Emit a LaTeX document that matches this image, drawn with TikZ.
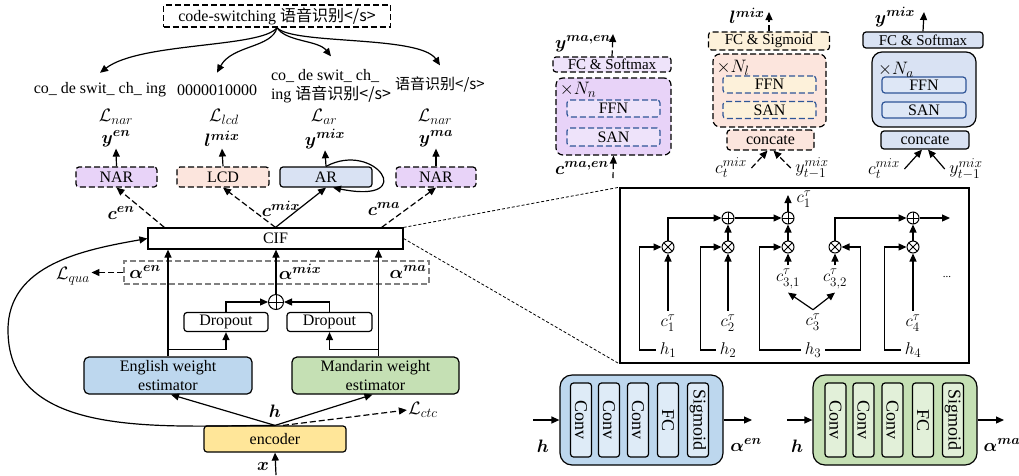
\documentclass[tikz,border=0pt]{standalone}
\usepackage{fix-cm}
\usepackage{amsmath,bm}
\usepackage{fontspec}
\setmainfont{Liberation Serif}
\newfontfamily\cjk{Noto Sans CJK SC}
\usetikzlibrary{arrows.meta, positioning}
\DeclareMathSizes{16}{18}{13.5}{10}
\DeclareMathSizes{15}{17}{13}{10}
\DeclareMathSizes{18}{18}{13}{10}

\definecolor{narfill}{HTML}{E8D3F8}
\definecolor{narinner}{HTML}{EEE3FA}
\definecolor{lcdfill}{HTML}{FCE5DD}
\definecolor{lcdinner}{HTML}{FDF1DA}
\definecolor{arfill}{HTML}{D9E2F3}
\definecolor{arinner}{HTML}{DEE7F6}
\definecolor{enfill}{HTML}{BDD7EE}
\definecolor{eninner}{HTML}{DEEBF7}
\definecolor{mafill}{HTML}{C5E0B4}
\definecolor{mainner}{HTML}{E2F0D9}
\definecolor{encfill}{HTML}{FFE699}
\definecolor{innerline}{HTML}{2F5597}

\begin{document}
\begin{tikzpicture}[x=1pt, y=-1pt, line width=1.2pt,
    >={Triangle[length=8pt, width=7pt]},
    font=\fontsize{16}{19}\selectfont,
    box/.style={draw, rounded corners=3pt, inner sep=0pt, align=center},
    dbox/.style={box, dash pattern=on 6pt off 3pt},
    dline/.style={dash pattern=on 6pt off 3pt},
    sm/.style={font=\fontsize{15}{17}\selectfont},
    lbl/.style={inner sep=1pt},
    op/.style={draw, circle, inner sep=0pt, minimum size=12pt, line width=1pt},
    oplus/.style={op, path picture={\draw[line width=0.9pt]
        (path picture bounding box.north) -- (path picture bounding box.south)
        (path picture bounding box.west) -- (path picture bounding box.east);}},
    otimes/.style={op, path picture={\draw[line width=0.9pt]
        (path picture bounding box.north west) -- (path picture bounding box.south east)
        (path picture bounding box.south west) -- (path picture bounding box.north east);}},
    layer/.style={box, rotate=-90, minimum width=74pt, minimum height=21pt,
        font=\fontsize{18}{20}\selectfont}
  ]
  \useasboundingbox (0,0) rectangle (1019,475);

  % Nodes for the targets
  \node[dbox, rounded corners=0pt, minimum width=227pt, minimum height=22pt] (sent) at (277,16)
    {code-switching {\cjk 语音识别</s>}};
  \node (tgten) at (100,90) {co\_ de swit\_ ch\_ ing};
  \node (tgtlcd) at (217,90) {0000010000};
  \node[align=left] (tgtar) at (331,86) {co\_ de swit\_ ch\_\\ing {\cjk 语音识别</s>}};
  \node (tgtma) at (440,84) {{\cjk\fontsize{15}{17}\selectfont 语音识别</s>}};
  \node[lbl] (lnaren) at (116,117) {$\mathcal{L}_{nar}$};
  \node[lbl] (llcd) at (224,117) {$\mathcal{L}_{lcd}$};
  \node[lbl] (lar) at (324,117) {$\mathcal{L}_{ar}$};
  \node[lbl] (lnarma) at (435,117) {$\mathcal{L}_{nar}$};
  \node[lbl] (yen) at (116,139) {$\bm{y^{en}}$};
  \node[lbl] (lmix) at (222,139) {$\bm{l^{mix}}$};
  \node[lbl] (ymix) at (325,139) {$\bm{y^{mix}}$};
  \node[lbl] (yma) at (436,139) {$\bm{y^{ma}}$};

  % Nodes for the decoders and CIF
  \node[dbox, fill=narfill, minimum width=81pt, minimum height=20pt] (naren) at (116.5,177) {NAR};
  \node[dbox, fill=lcdfill, minimum width=92pt, minimum height=20pt] (lcd) at (223,177) {LCD};
  \node[box, fill=arfill, minimum width=92pt, minimum height=20pt] (ar) at (326,177) {AR};
  \node[dbox, fill=narfill, minimum width=80pt, minimum height=20pt] (narma) at (436,177) {NAR};
  \node[box, rounded corners=0pt, minimum width=255pt, minimum height=21pt] (cif) at (275.5,238.5) {CIF};
  \node[lbl] (cen) at (121,213) {$\bm{c^{en}}$};
  \node[lbl] (cmix) at (281,209) {$\bm{c^{mix}}$};
  \node[lbl] (cma) at (384,209) {$\bm{c^{ma}}$};

  % Nodes for the weights
  \node[draw=gray, dline, minimum width=305pt, minimum height=23pt, inner sep=0pt] (alpha) at (276.5,272.5) {};
  \node[lbl] (alphaen) at (145,272) {$\bm{\alpha^{en}}$};
  \node[lbl] (alphamix) at (300,272) {$\bm{\alpha^{mix}}$};
  \node[lbl] (alphama) at (408,272) {$\bm{\alpha^{ma}}$};
  \node[lbl] (lqua) at (73,276) {$\mathcal{L}_{qua}$};
  \node[oplus, minimum size=15pt] (sum) at (276,302) {};
  \node[box, minimum width=84pt, minimum height=19pt] (dropen) at (226,322) {Dropout};
  \node[box, minimum width=85pt, minimum height=19pt] (dropma) at (329.5,322) {Dropout};
  \node[box, fill=enfill, rounded corners=5pt, minimum width=168pt, minimum height=37pt] (esten) at (168,375.5) {English weight\\estimator};
  \node[box, fill=mafill, rounded corners=5pt, minimum width=167pt, minimum height=37pt] (estma) at (375.5,375.5) {Mandarin weight\\estimator};
  \coordinate (maup) at ([xshift=3pt]estma.north);
  \node[box, fill=encfill, minimum width=142pt, minimum height=26pt] (enc) at (275,439) {encoder};
  \node[lbl] (hlab) at (275,411) {$\bm{h}$};
  \node[lbl] (lctc) at (423,410) {$\mathcal{L}_{ctc}$};
  \node[lbl] (xlab) at (263,466) {$\bm{x}$};
  \coordinate (xin) at (276,475);

  % Edges for the targets
  \draw[->] (sent.south) .. controls (262,48) and (140,42) .. ([yshift=6pt]tgten.north);
  \draw[->] (sent.south) .. controls (272,48) and (232,45) .. ([yshift=8pt]tgtlcd.north);
  \draw[->] (sent.south) .. controls (286,42) and (318,40) .. ([yshift=9pt]tgtar.north);
  \draw[->] (sent.south) .. controls (292,45) and (420,35) .. ([yshift=7pt]tgtma.north);

  % Edges for the decoders
  \draw[->] (naren.north) -- (yen.south);
  \draw[->] (lcd.north) -- (lmix.south);
  \draw[->] (ar.north) -- (ymix.south);
  \draw[->] (narma.north) -- (yma.south);
  \draw[->] (ar.north) .. controls (375,140) and (420,205) .. ([xshift=7pt]ar.south);
  \draw[->, dline] ([xshift=17pt]cif.north west) -- (naren.south);
  \draw[->, dline] (cif.north) -- (lcd.south);
  \draw[->] (cif.north) -- (ar.south);
  \draw[->, dline] ([xshift=-22pt]cif.north east) -- (narma.south);

  % Edges for the weights
  \draw[->] (sum) -- (sum |- cif.south);
  \draw[->] (esten.north) -- (esten.north |- cif.south);
  \draw[->] (maup) -- (maup |- cif.south);
  \draw[->] (esten.north) ++(0,-7) -| (dropen.south);
  \draw[->] (maup) ++(0,-7) -| (dropma.south);
  \draw[->] (dropen.north) |- (sum.west);
  \draw[->] (dropma.north) |- (sum.east);
  \draw[->, dline] (alpha.west) -- (alpha.west -| lqua.east);
  \draw[->] (enc.north) -- ([xshift=3pt]esten.south);
  \draw[->] (enc.north) -- ([xshift=-3pt]estma.south);
  \draw[->, dline] ([xshift=8pt]enc.north) -- (lctc.west);
  \draw[->] (xin) -- (enc.south);
  \draw[->] (enc.north) to[out=180, in=-90] (8,330) to[out=90, in=190] (cif.west);

  % Nodes for the NAR decoder
  \node[dbox, fill=narfill, rounded corners=7pt, minimum width=115pt, minimum height=77pt] (blknar) at (613.5,116.5) {};
  \node[dbox, sm, fill=narinner, minimum width=118pt, minimum height=15pt] (fcnar) at (612,64.5) {FC \& Softmax};
  \node[dbox, draw=innerline, fill=narinner, minimum width=93pt, minimum height=17pt] (ffnnar) at (613.5,108.5) {FFN};
  \node[dbox, draw=innerline, fill=narinner, minimum width=93pt, minimum height=18pt] (sannar) at (613.5,137) {SAN};
  \node[lbl] (nnar) at (578,90) {$\times N_n$};
  \node[lbl] (ymaen) at (583,44) {$\bm{y^{ma,en}}$};
  \node[lbl] (cmaen) at (582,168) {$\bm{c^{ma,en}}$};
  \coordinate (ymaentip) at (613,34);
  \coordinate (cmaenin) at (613,178);
  \draw[->, dline] (fcnar.north) -- (ymaentip);
  \draw[->, dline] (cmaenin) -- (blknar.south);

  % Nodes for the LCD decoder
  \node[dbox, fill=lcdfill, rounded corners=7pt, minimum width=113pt, minimum height=73pt] (blklcd) at (769.5,90.5) {};
  \node[dbox, sm, fill=lcdinner, minimum width=121pt, minimum height=18pt] (fclcd) at (769,41) {FC \& Sigmoid};
  \node[dbox, draw=innerline, fill=lcdinner, minimum width=93pt, minimum height=17pt] (ffnlcd) at (769.5,84.5) {FFN};
  \node[dbox, draw=innerline, fill=lcdinner, minimum width=93pt, minimum height=17pt] (sanlcd) at (769.5,110) {SAN};
  \node[dbox, fill=lcdfill, minimum width=87pt, minimum height=20pt] (catlcd) at (770.5,140) {concate};
  \node[lbl] (nlcd) at (733,68) {$\times N_l$};
  \node[lbl] (lmixr) at (747,16) {$\bm{l^{mix}}$};
  \coordinate (lmixtip) at (769,12);
  \node[lbl] (ctlcd) at (731,168) {$c_t^{mix}$};
  \node[lbl] (ytlcd) at (812,168) {$y_{t-1}^{mix}$};
  \draw[->, dline] ([xshift=3pt]ctlcd.east) -- ([xshift=-3pt]catlcd.south);
  \draw[->, dline] ([xshift=-3pt]ytlcd.west) -- ([xshift=3pt]catlcd.south);
  \draw[->, dline] (fclcd.north) -- (lmixtip);

  % Nodes for the AR decoder
  \node[box, fill=arfill, rounded corners=10pt, minimum width=104pt, minimum height=75pt] (blkar) at (924,89.5) {};
  \node[box, sm, fill=arfill, minimum width=120pt, minimum height=16pt] (fcar) at (923,40) {FC \& Softmax};
  \node[box, draw=innerline, fill=arinner, minimum width=84pt, minimum height=16pt] (ffnar) at (924,85) {FFN};
  \node[box, draw=innerline, fill=arinner, minimum width=84pt, minimum height=16pt] (sanar) at (924,110) {SAN};
  \node[box, fill=arfill, minimum width=88pt, minimum height=18pt] (catar) at (925,140) {concate};
  \node[lbl] (nar) at (896,70) {$\times N_a$};
  \node[lbl] (ymixr) at (895,17) {$\bm{y^{mix}}$};
  \coordinate (ymixtip) at (924,12);
  \node[lbl] (ctar) at (884,169) {$c_t^{mix}$};
  \node[lbl] (ytar) at (966,169) {$y_{t-1}^{mix}$};
  \draw[->] (fcar.north) -- (ymixtip);
  \draw[->] ([xshift=3pt]ctar.east) -- ([xshift=-3pt]catar.south);
  \draw[->] ([xshift=-3pt]ytar.west) -- ([xshift=3pt]catar.south);

  % Nodes for the CIF process
  \node[draw, line width=1.5pt, minimum width=349pt, minimum height=175pt, inner sep=0pt] (cifzoom) at (794.5,275.5) {};
  \draw[line width=0.8pt, dash pattern=on 3pt off 2pt] (cif.north east) -- (cifzoom.north west);
  \draw[line width=0.8pt, dash pattern=on 3pt off 2pt] (cif.east) -- (cifzoom.south west);
  \node[otimes] (m1) at (668,247) {};
  \node[otimes] (m2) at (728,247) {};
  \node[otimes] (m3) at (788,247) {};
  \node[otimes] (m4) at (835,247) {};
  \node[otimes] (m5) at (913,247) {};
  \node[oplus] (a1) at (728,218) {};
  \node[oplus] (a2) at (788,218) {};
  \node[oplus] (a3) at (913,218) {};
  \node[sm] (h1) at (668,350) {$h_1$};
  \node[sm] (h2) at (728,350) {$h_2$};
  \node[sm] (h3) at (813,350) {$h_3$};
  \node[sm] (h4) at (913,350) {$h_4$};
  \node[sm] (c1) at (668,323) {$c_1^{\tau}$};
  \node[sm] (c2) at (728,323) {$c_2^{\tau}$};
  \node[sm] (c31) at (788,279) {$c_{3,1}^{\tau}$};
  \node[sm] (c32) at (835,279) {$c_{3,2}^{\tau}$};
  \node[sm] (c3) at (813,322) {$c_3^{\tau}$};
  \node[sm] (c4) at (913,323) {$c_4^{\tau}$};
  \node[font=\fontsize{11}{13}\selectfont] (dots) at (947,277) {...};
  \coordinate (c1tip) at (788,195);
  \node[sm, lbl] (c1out) at (804,199) {$c_1^{\tau}$};
  \coordinate (flowtip) at (950,218);

  % Edges for the CIF process
  \draw[->] (m1) |- (a1);
  \draw[->] (a1) -- (a2);
  \draw[->] (m2) -- (a1);
  \draw[->] (m3) -- (a2);
  \draw[->] (m5) -- (a3);
  \draw[->] (a2) -- (c1tip);
  \draw[->] (m4) |- (a3);
  \draw[->] (a3) -- (flowtip);
  \draw[->] (h1.west) -- ++(-16,0) |- (m1);
  \draw[->] (h2.west) -- ++(-15,0) |- (m2);
  \draw[->] (h3.west) -- ++(-41,0) |- (m3);
  \draw[->] (h3.east) -- ++(35,0) |- (m4);
  \draw[->] (h4.west) -- ++(-16,0) |- (m5);
  \draw[->] (c1) -- (m1);
  \draw[->] (c2) -- (m2);
  \draw[->] (c4) -- (m5);
  \draw[->] (c31) -- (m3);
  \draw[->] (c32) -- (m4);
  \draw[->] (c3.north) -- (c31.south);
  \draw[->] (c3.north) -- (c32.south);

  % Nodes for the weight estimators
  \node[box, fill=enfill, rounded corners=12pt, minimum width=163pt, minimum height=90pt] (wen) at (641.5,420) {};
  \node[layer, fill=eninner] (wen1) at (581,420) {Conv};
  \node[layer, fill=eninner] (wen2) at (609,420) {Conv};
  \node[layer, fill=eninner] (wen3) at (638,420) {Conv};
  \node[layer, fill=eninner] (wen4) at (668,420) {FC};
  \node[layer, fill=eninner] (wen5) at (698,420) {Sigmoid};
  \coordinate (henin) at (533,420);
  \coordinate (aenout) at (752,420);
  \node[lbl] (hen) at (543,446) {$\bm{h}$};
  \node[lbl] (aen) at (746,445) {$\bm{\alpha^{en}}$};
  \draw[->] (henin) -- (wen.west);
  \draw[->] (wen.east) -- (aenout);

  \node[box, fill=mafill, rounded corners=12pt, minimum width=164pt, minimum height=90pt] (wma) at (895,420) {};
  \node[layer, fill=mainner] (wma1) at (835.5,420) {Conv};
  \node[layer, fill=mainner] (wma2) at (863.5,420) {Conv};
  \node[layer, fill=mainner] (wma3) at (892.5,420) {Conv};
  \node[layer, fill=mainner] (wma4) at (923,420) {FC};
  \node[layer, fill=mainner] (wma5) at (953,420) {Sigmoid};
  \coordinate (hmain) at (787,420);
  \coordinate (amaout) at (1004,420);
  \node[lbl] (hma) at (797,446) {$\bm{h}$};
  \node[lbl] (ama) at (1002,445) {$\bm{\alpha^{ma}}$};
  \draw[->] (hmain) -- (wma.west);
  \draw[->] (wma.east) -- (amaout);

\end{tikzpicture}
\end{document}
